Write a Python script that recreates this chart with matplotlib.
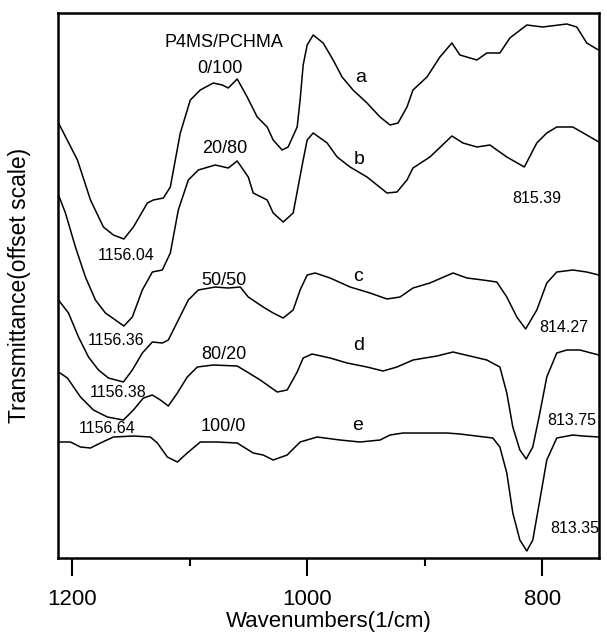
import numpy as np
import matplotlib
matplotlib.use("Agg")
import matplotlib.pyplot as plt

plt.rcParams['font.family'] = ['Liberation Sans', 'DejaVu Sans']

# FTIR spectra, P4MS/PCHMA blends (offset transmittance, arbitrary units)
wn_a = [1211.6, 1195.5, 1184.4, 1173.4, 1164.9, 1156.0, 1147.9, 1136.0, 1130.9, 1122.4, 1116.5, 1108.0,
        1099.5, 1091.0, 1080.0, 1072.3, 1067.2, 1059.6, 1051.1, 1042.6, 1034.1, 1029.0, 1021.4, 1016.3,
        1008.6, 1006.1, 1003.5, 1000.1, 995.0, 986.5, 978.0, 970.4, 961.1, 949.2, 938.1, 929.6, 922.8,
        915.2, 910.1, 898.2, 887.2, 877.0, 870.2, 855.7, 847.3, 836.2, 827.7, 813.3, 799.7, 779.3,
        770.8, 762.3, 753.8, 752.0]
t_a = [435, 398, 358, 331, 323, 319, 331, 355, 358, 360, 371, 425,
       458, 468, 475, 473, 470, 479, 461, 441, 431, 418, 408, 411,
       431, 458, 493, 513, 523, 515, 498, 481, 468, 455, 441, 433, 435,
       451, 468, 481, 501, 515, 503, 498, 505, 505, 520, 533, 531, 534,
       531, 515, 509, 508]

wn_b = [1211.6, 1205.7, 1197.2, 1188.7, 1180.2, 1171.7, 1163.2, 1156.0, 1148.8, 1140.3, 1131.8, 1123.3,
        1116.5, 1109.7, 1101.2, 1092.7, 1078.3, 1067.2, 1059.6, 1050.2, 1046.0, 1034.1, 1029.0, 1020.5,
        1012.0, 1003.5, 1000.1, 995.0, 983.1, 974.6, 963.6, 949.2, 932.2, 923.7, 915.2, 910.1, 895.7,
        877.0, 867.6, 855.7, 844.7, 830.3, 815.4, 804.8, 796.3, 787.8, 774.2, 762.3, 752.0]
t_b = [363, 345, 311, 281, 258, 245, 238, 232, 241, 268, 286, 288,
       305, 348, 378, 388, 393, 390, 397, 381, 365, 358, 345, 336,
       345, 398, 418, 425, 415, 401, 391, 381, 365, 366, 378, 390, 401,
       422, 415, 411, 413, 401, 391, 415, 425, 431, 431, 423, 416]

wn_c = [1211.6, 1203.1, 1194.6, 1186.1, 1177.6, 1169.1, 1156.4, 1148.8, 1140.3, 1131.8, 1123.3, 1118.2,
        1109.7, 1101.2, 1092.7, 1078.3, 1067.2, 1057.0, 1050.2, 1037.5, 1029.0, 1020.5, 1012.0, 1006.1,
        1000.1, 993.3, 980.6, 963.6, 946.6, 932.2, 921.1, 910.1, 895.7, 876.1, 864.2, 850.7, 838.8,
        830.3, 821.8, 814.3, 804.8, 796.3, 787.8, 774.2, 762.3, 752.0]
t_c = [258, 245, 221, 201, 188, 180, 176, 188, 205, 216, 215, 218,
       238, 258, 268, 271, 270, 271, 261, 251, 245, 240, 248, 268,
       283, 285, 280, 271, 265, 259, 261, 270, 275, 285, 280, 278, 276,
       261, 241, 229, 248, 275, 286, 288, 286, 283]

wn_d = [1211.6, 1204.0, 1192.9, 1181.9, 1170.0, 1156.4, 1147.9, 1139.4, 1131.8, 1124.9, 1118.2, 1110.5,
        1102.1, 1093.5, 1080.0, 1059.6, 1051.1, 1040.0, 1025.6, 1017.1, 1008.6, 1003.5, 995.9, 980.6,
        966.1, 949.2, 935.6, 923.7, 910.1, 889.7, 876.1, 847.3, 836.2, 830.3, 825.2, 819.2, 813.8,
        808.2, 802.2, 796.3, 787.8, 779.3, 768.2, 752.0]
t_d = [186, 180, 161, 148, 141, 138, 148, 160, 163, 158, 152, 165,
       181, 191, 193, 192, 186, 178, 166, 168, 186, 200, 204, 200,
       195, 191, 187, 191, 198, 202, 206, 198, 191, 165, 131, 108, 99,
       111, 145, 181, 205, 208, 208, 203]

wn_e = [1211.6, 1201.4, 1192.9, 1184.4, 1175.9, 1164.9, 1147.9, 1133.5, 1127.5, 1119.0, 1110.5, 1102.1,
        1091.0, 1076.6, 1059.6, 1046.0, 1037.5, 1029.0, 1017.1, 1006.1, 991.6, 972.1, 955.1, 938.1,
        929.6, 918.6, 881.2, 870.2, 842.2, 836.2, 830.3, 825.2, 819.2, 813.3, 808.2, 802.2, 796.3,
        787.8, 774.2, 765.7, 752.0]
t_e = [116, 116, 111, 110, 115, 121, 122, 121, 115, 101, 96, 105,
       116, 116, 115, 105, 103, 98, 103, 116, 121, 118, 116, 118,
       123, 125, 125, 124, 120, 111, 85, 45, 18, 7, 18, 58, 98,
       120, 123, 122, 121]

curves = [(wn_a, t_a), (wn_b, t_b), (wn_c, t_c), (wn_d, t_d), (wn_e, t_e)]

# labels: (text, wavenumber, y)
letters = [("a", 955, 480), ("b", 956, 398), ("c", 957, 282), ("d", 956, 213), ("e", 957, 133)]
ratios = [("0/100", 1074, 489), ("20/80", 1070.6, 409), ("50/50", 1070.6, 278),
          ("80/20", 1070.6, 204), ("100/0", 1071.5, 132)]
peaks = [("1156.04", 1153.8, 303), ("1156.36", 1162.3, 218), ("1156.38", 1160.6, 166),
         ("1156.64", 1170, 130), ("815.39", 804.8, 360), ("814.27", 781.8, 231),
         ("813.75", 775, 138), ("813.35", 772.5, 30)]

fig = plt.figure(figsize=(6.07, 6.37), dpi=100)
ax = fig.add_axes([0.0956, 0.124, 0.891, 0.8556])

for wn, t in curves:
    ax.plot(wn, t, color="black", lw=1.1, solid_joinstyle="round")

ax.text(1070.6, 515, "P4MS/PCHMA", fontsize=13, ha="center", va="center")
for s, x, y in ratios:
    ax.text(x, y, s, fontsize=13, ha="center", va="center")
for s, x, y in letters:
    ax.text(x, y, s, fontsize=14, ha="center", va="center")
for s, x, y in peaks:
    ax.text(x, y, s, fontsize=11.5, ha="center", va="center")

ax.set_xlim(1212, 752)
ax.set_ylim(0, 545)
ax.set_xticks([1200, 1000, 800])
ax.set_xticks([1100, 900], minor=True)
ax.set_yticks([])
ax.tick_params(axis="x", which="major", direction="out", length=13, width=1.5, labelsize=16, pad=9)
ax.tick_params(axis="x", which="minor", direction="out", length=6, width=1.5)
for sp in ax.spines.values():
    sp.set_linewidth(1.8)

ax.set_xlabel("Wavenumbers(1/cm)", fontsize=16, labelpad=1)
ax.set_ylabel("Transmittance(offset scale)", fontsize=16.5)
ax.yaxis.set_label_coords(-0.05, 0.5)

fig.savefig("out.png", dpi=100)
